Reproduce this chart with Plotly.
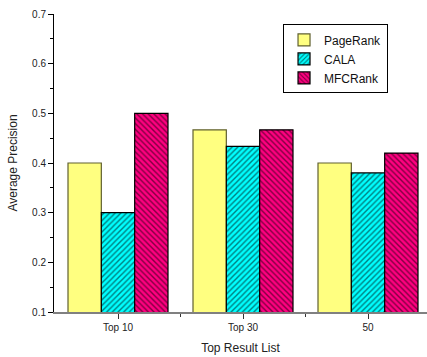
import plotly.graph_objects as go

categories = ["Top 10", "Top 30", "50"]
pagerank = [0.40, 0.4667, 0.40]
cala = [0.30, 0.4333, 0.38]
mfcrank = [0.50, 0.4667, 0.42]

x_pos = list(range(len(categories)))

fig = go.Figure()
fig.add_trace(go.Bar(
    name="PageRank", x=x_pos, y=pagerank,
    marker=dict(color="#FFFF80", line=dict(color="#606030", width=1.2)),
))
fig.add_trace(go.Bar(
    name="CALA", x=x_pos, y=cala,
    marker=dict(color="#00FFFF", line=dict(color="black", width=1.2),
                pattern=dict(shape="/", fgcolor="black", bgcolor="#00FFFF",
                             size=4, solidity=0.35, fillmode="overlay")),
))
fig.add_trace(go.Bar(
    name="MFCRank", x=x_pos, y=mfcrank,
    marker=dict(color="#FF0080", line=dict(color="black", width=1.2),
                pattern=dict(shape="\\", fgcolor="black", bgcolor="#FF0080",
                             size=4, solidity=0.35, fillmode="overlay")),
))

font = "Liberation Sans, Arial, sans-serif"
fig.update_layout(
    width=427, height=357,
    margin=dict(l=54, r=0, t=14, b=45),
    paper_bgcolor="white", plot_bgcolor="white",
    barmode="group", bargap=0.2, bargroupgap=0,
    font=dict(family=font, size=10, color="#222"),
    showlegend=True,
    legend=dict(
        x=0.614, y=0.965, xanchor="left", yanchor="top",
        bordercolor="black", borderwidth=1, bgcolor="white",
        font=dict(size=12, color="#111"),
        tracegroupgap=0, itemwidth=30,
    ),
    xaxis=dict(
        range=[-0.512, 2.472],
        tickmode="array", tickvals=x_pos, ticktext=categories,
        ticks="outside", ticklen=5, tickcolor="#333",
        showline=True, linecolor="#808080", linewidth=1.5,
        showgrid=False, zeroline=False,
        minor=dict(tickmode="array", tickvals=[0.5, 1.5], ticks="outside",
                   ticklen=3, tickcolor="#333"),
        title=dict(text="Top Result List", font=dict(size=12), standoff=12),
    ),
    yaxis=dict(
        range=[0.1, 0.7],
        tickmode="array", tickvals=[0.1, 0.2, 0.3, 0.4, 0.5, 0.6, 0.7],
        tickformat=".1f",
        ticks="outside", ticklen=5, tickcolor="black",
        showline=True, linecolor="black", linewidth=1,
        showgrid=False, zeroline=False,
        minor=dict(dtick=0.05, ticks="outside", ticklen=3, tickcolor="black"),
        title=dict(text="Average Precision", font=dict(size=12), standoff=11),
    ),
)

fig.write_html("out.html")
